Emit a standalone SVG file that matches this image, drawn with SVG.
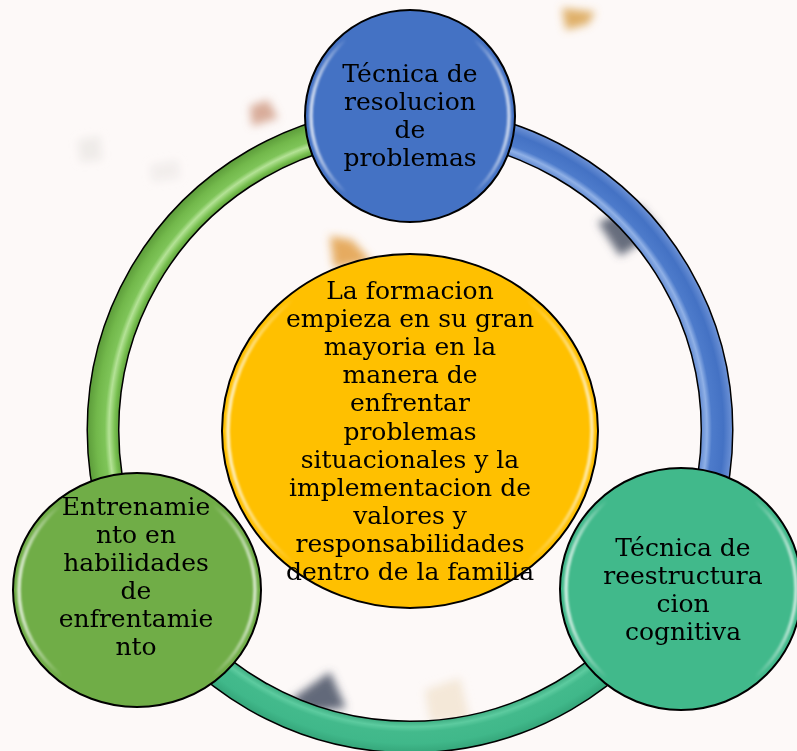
<svg xmlns="http://www.w3.org/2000/svg" width="797" height="751" viewBox="0 0 797 751">
<style>
.lbl{font-family:"DejaVu Serif","Liberation Serif",serif;font-size:25px;fill:#000;text-anchor:middle}
.node{stroke:#000;stroke-width:2}
.hl{fill:none;stroke:url(#shine);stroke-width:3.5;filter:url(#soft)}
.outline{fill:none;stroke:#000;stroke-width:33}
</style>
<defs>
<filter id="blur" x="-50%" y="-50%" width="200%" height="200%"><feGaussianBlur stdDeviation="4"/></filter>
<filter id="soft" x="-10%" y="-10%" width="120%" height="120%"><feGaussianBlur stdDeviation="1.2"/></filter>
<linearGradient id="shine" x1="0" y1="0" x2="1" y2="0">
<stop offset="0" stop-color="#fff" stop-opacity="0.75"/>
<stop offset="0.18" stop-color="#fff" stop-opacity="0"/>
<stop offset="0.82" stop-color="#fff" stop-opacity="0"/>
<stop offset="1" stop-color="#fff" stop-opacity="0.7"/>
</linearGradient>
<radialGradient id="gGreen" gradientUnits="userSpaceOnUse" cx="410" cy="430" r="330">
<stop offset="0.880" stop-color="#5A9A38"/>
<stop offset="0.895" stop-color="#78C050"/>
<stop offset="0.912" stop-color="#B4E296"/>
<stop offset="0.925" stop-color="#7EC458"/>
<stop offset="0.950" stop-color="#72B84B"/>
<stop offset="0.978" stop-color="#5C9C3A"/>
</radialGradient>
<radialGradient id="gBlue" gradientUnits="userSpaceOnUse" cx="410" cy="430" r="330">
<stop offset="0.880" stop-color="#5C86D0"/>
<stop offset="0.900" stop-color="#8FB0E6"/>
<stop offset="0.915" stop-color="#4D7BCB"/>
<stop offset="0.950" stop-color="#4472C4"/>
<stop offset="0.978" stop-color="#6D92D6"/>
</radialGradient>
<radialGradient id="gTeal" gradientUnits="userSpaceOnUse" cx="410" cy="430" r="330">
<stop offset="0.880" stop-color="#38A87C"/>
<stop offset="0.900" stop-color="#5CCB9F"/>
<stop offset="0.915" stop-color="#43BA8C"/>
<stop offset="0.950" stop-color="#40B88A"/>
<stop offset="0.978" stop-color="#35A67A"/>
</radialGradient>
</defs>
<rect width="797" height="751" fill="#FDF9F8"/>
<g id="background-chips" filter="url(#blur)">
<polygon points="562,8 595,12 588,24 566,30" fill="#D9A24F" opacity="0.85"/>
<polygon points="250,106 268,100 278,118 252,126" fill="#C98C72" opacity="0.7"/>
<polygon points="330,236 352,240 372,262 334,268" fill="#E29E45" opacity="0.85"/>
<polygon points="598,222 640,206 660,230 620,256" fill="#555D6E" opacity="0.9"/>
<polygon points="290,700 330,672 346,708 310,712" fill="#515A6C" opacity="0.9"/>
<polygon points="425,690 460,678 470,720 430,722" fill="#F1E4CF" opacity="0.8"/>
<polygon points="78,140 100,136 102,160 80,162" fill="#E6E2E0" opacity="0.6"/>
<polygon points="150,165 178,160 180,178 152,182" fill="#E8E4E2" opacity="0.5"/>
</g>
<g id="connectors">
<path class="outline" d="M144.1,583.5 A307,307 0 0 1 410,123"/>
<path d="M144.1,583.5 A307,307 0 0 1 410,123" fill="none" stroke="url(#gGreen)" stroke-width="30"/>
<path class="outline" d="M410,123 A307,307 0 0 1 675.9,583.5"/>
<path d="M410,123 A307,307 0 0 1 675.9,583.5" fill="none" stroke="url(#gBlue)" stroke-width="30"/>
<path class="outline" d="M675.9,583.5 A307,307 0 0 1 144.1,583.5"/>
<path d="M675.9,583.5 A307,307 0 0 1 144.1,583.5" fill="none" stroke="url(#gTeal)" stroke-width="30"/>
</g>
<g id="node-center">
<ellipse class="node" cx="410" cy="431" rx="188" ry="177" fill="#FFC000"/>
<ellipse class="hl" cx="410" cy="431" rx="182" ry="171"/>
<text class="lbl"><tspan x="410" y="299">La formacion</tspan><tspan x="410" y="327">empieza en su gran</tspan><tspan x="410" y="355">mayoria en la</tspan><tspan x="410" y="383">manera de</tspan><tspan x="410" y="411">enfrentar</tspan><tspan x="410" y="440">problemas</tspan><tspan x="410" y="468">situacionales y la</tspan><tspan x="410" y="496">implementacion de</tspan><tspan x="410" y="524">valores y</tspan><tspan x="410" y="552">responsabilidades</tspan><tspan x="410" y="580">dentro de la familia</tspan></text>
</g>
<g id="node-top">
<ellipse class="node" cx="410" cy="116" rx="105" ry="106" fill="#4472C4"/>
<ellipse class="hl" cx="410" cy="116" rx="99" ry="100"/>
<text class="lbl"><tspan x="410" y="82">Técnica de</tspan><tspan x="410" y="110">resolucion</tspan><tspan x="410" y="138">de</tspan><tspan x="410" y="166">problemas</tspan></text>
</g>
<g id="node-left">
<ellipse class="node" cx="137" cy="590" rx="124" ry="117" fill="#70AD47"/>
<ellipse class="hl" cx="137" cy="590" rx="118" ry="111"/>
<text class="lbl"><tspan x="136" y="515">Entrenamie</tspan><tspan x="136" y="543">nto en</tspan><tspan x="136" y="571">habilidades</tspan><tspan x="136" y="599">de</tspan><tspan x="136" y="627">enfrentamie</tspan><tspan x="136" y="655">nto</tspan></text>
</g>
<g id="node-right">
<ellipse class="node" cx="681" cy="589" rx="121" ry="121" fill="#41B98B"/>
<ellipse class="hl" cx="681" cy="589" rx="115" ry="115"/>
<text class="lbl"><tspan x="683" y="556">Técnica de</tspan><tspan x="683" y="584">reestructura</tspan><tspan x="683" y="612">cion</tspan><tspan x="683" y="640">cognitiva</tspan></text>
</g>
</svg>
